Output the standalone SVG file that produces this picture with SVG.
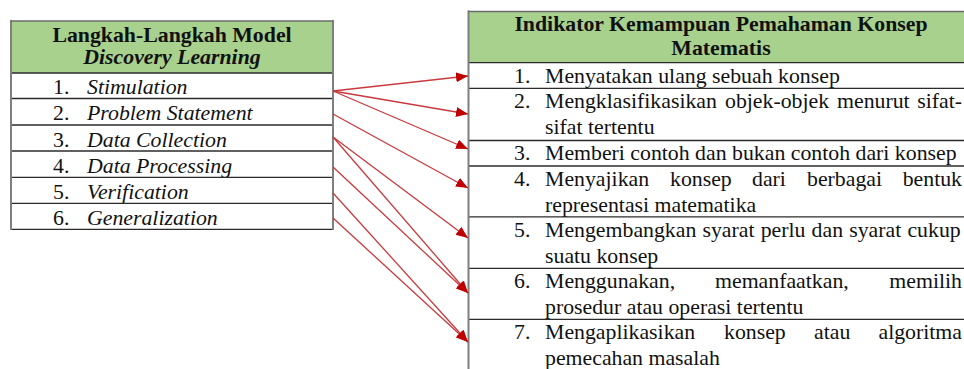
<svg xmlns="http://www.w3.org/2000/svg" width="964" height="369" viewBox="0 0 964 369">
<style>
.t{font-family:"Liberation Serif","Times New Roman",serif;font-size:21.8px;fill:#111}
.b{font-weight:bold}
.i{font-style:italic}
.m{text-anchor:middle}
.e{text-anchor:end}
.hdr{fill:#a9d18e}
.hl{stroke:#2b2b2b;stroke-width:1.3}
.vl{stroke:#7f7f7f;stroke-width:2}
.c{fill:none;stroke:#c9393d;stroke-width:1.3;marker-end:url(#ah)}
</style>
<defs>
<marker id="ah" markerUnits="userSpaceOnUse" markerWidth="13" markerHeight="11" refX="12" refY="5" orient="auto">
<path d="M0,0 L12,5 L0,10 z" fill="#c00000"/>
</marker>
</defs>
<rect width="964" height="369" fill="#fff"/>

<!-- Left table -->
<g id="left-header">
<rect class="hdr" x="11" y="21" width="322" height="52"/>
<text class="t b m" x="172" y="42">Langkah-Langkah Model</text>
<text class="t b i m" x="172" y="64">Discovery Learning</text>
<line class="hl" x1="11" y1="73" x2="333" y2="73"/>
</g>
<g id="step-1"><text class="t" x="53" y="94">1.</text><text class="t i" x="87" y="94">Stimulation</text><line class="hl" x1="11" y1="98.5" x2="333" y2="98.5"/></g>
<g id="step-2"><text class="t" x="53" y="120">2.</text><text class="t i" x="87" y="120">Problem Statement</text><line class="hl" x1="11" y1="125" x2="333" y2="125"/></g>
<g id="step-3"><text class="t" x="53" y="147">3.</text><text class="t i" x="87" y="147">Data Collection</text><line class="hl" x1="11" y1="151" x2="333" y2="151"/></g>
<g id="step-4"><text class="t" x="53" y="173">4.</text><text class="t i" x="87" y="173">Data Processing</text><line class="hl" x1="11" y1="177.3" x2="333" y2="177.3"/></g>
<g id="step-5"><text class="t" x="53" y="199">5.</text><text class="t i" x="87" y="199">Verification</text><line class="hl" x1="11" y1="203.3" x2="333" y2="203.3"/></g>
<g id="step-6"><text class="t" x="53" y="225">6.</text><text class="t i" x="87" y="225">Generalization</text><line class="hl" x1="11" y1="229.3" x2="333" y2="229.3"/></g>
<g id="left-frame">
<line class="vl" x1="11" y1="20" x2="11" y2="230"/>
<line class="vl" x1="333" y1="20" x2="333" y2="230"/>
<line x1="11" y1="21" x2="333" y2="21" stroke="#6b6b6b" stroke-width="1.5"/>
</g>

<!-- Right table -->
<g id="right-header">
<rect class="hdr" x="468" y="11.5" width="510" height="51.2"/>
<text class="t b m" x="721" y="31">Indikator Kemampuan Pemahaman Konsep</text>
<text class="t b m" x="721" y="55">Matematis</text>
<line class="hl" x1="468" y1="62.7" x2="978" y2="62.7"/>
</g>
<g id="ind-1"><text class="t" x="514" y="83">1.</text><text class="t" x="545" y="83">Menyatakan ulang sebuah konsep</text><line class="hl" x1="468" y1="88.3" x2="978" y2="88.3"/></g>
<g id="ind-2">
<text class="t" x="514" y="108">2.</text>
<text class="t" x="545" y="108">Mengklasifikasikan</text>
<text class="t" x="725" y="108">objek-objek</text>
<text class="t" x="837" y="108">menurut</text>
<text class="t e" x="962" y="108">sifat-</text>
<text class="t" x="545" y="134">sifat tertentu</text>
<line class="hl" x1="468" y1="140.5" x2="978" y2="140.5"/>
</g>
<g id="ind-3"><text class="t" x="514" y="160">3.</text><text class="t" x="545" y="160">Memberi contoh dan bukan contoh dari konsep</text><line class="hl" x1="468" y1="166" x2="978" y2="166"/></g>
<g id="ind-4">
<text class="t" x="514" y="186">4.</text>
<text class="t" x="545" y="186">Menyajikan</text>
<text class="t" x="670" y="186">konsep</text>
<text class="t" x="752" y="186">dari</text>
<text class="t" x="807" y="186">berbagai</text>
<text class="t e" x="962" y="186">bentuk</text>
<text class="t" x="545" y="212">representasi matematika</text>
<line class="hl" x1="468" y1="216.8" x2="978" y2="216.8"/>
</g>
<g id="ind-5">
<text class="t" x="514" y="237">5.</text>
<text class="t" x="545" y="237" word-spacing="0.7">Mengembangkan syarat perlu dan syarat cukup</text>
<text class="t" x="545" y="263">suatu konsep</text>
<line class="hl" x1="468" y1="268.3" x2="978" y2="268.3"/>
</g>
<g id="ind-6">
<text class="t" x="514" y="288">6.</text>
<text class="t" x="545" y="288">Menggunakan,</text>
<text class="t" x="715" y="288">memanfaatkan,</text>
<text class="t e" x="962" y="288">memilih</text>
<text class="t" x="545" y="314">prosedur atau operasi tertentu</text>
<line class="hl" x1="468" y1="319.3" x2="978" y2="319.3"/>
</g>
<g id="ind-7">
<text class="t" x="514" y="339">7.</text>
<text class="t" x="545" y="339">Mengaplikasikan</text>
<text class="t" x="724" y="339">konsep</text>
<text class="t" x="814" y="339">atau</text>
<text class="t e" x="962" y="339">algoritma</text>
<text class="t" x="545" y="365">pemecahan masalah</text>
</g>
<g id="right-frame">
<line class="vl" x1="468.5" y1="10.5" x2="468.5" y2="369"/>
<line x1="468" y1="11.5" x2="978" y2="11.5" stroke="#6b6b6b" stroke-width="1.5"/>
</g>

<!-- Connectors -->
<g id="connectors">
<line class="c" x1="333" y1="91" x2="468" y2="76"/>
<line class="c" x1="333" y1="91" x2="468" y2="114"/>
<line class="c" x1="333" y1="91" x2="468" y2="149"/>
<line class="c" x1="333" y1="114" x2="468" y2="188"/>
<line class="c" x1="333" y1="137" x2="468" y2="238"/>
<line class="c" x1="333" y1="137" x2="468" y2="293"/>
<line class="c" x1="333" y1="167" x2="468" y2="293"/>
<line class="c" x1="333" y1="193" x2="468" y2="342"/>
<line class="c" x1="333" y1="218" x2="468" y2="342"/>
</g>
</svg>
